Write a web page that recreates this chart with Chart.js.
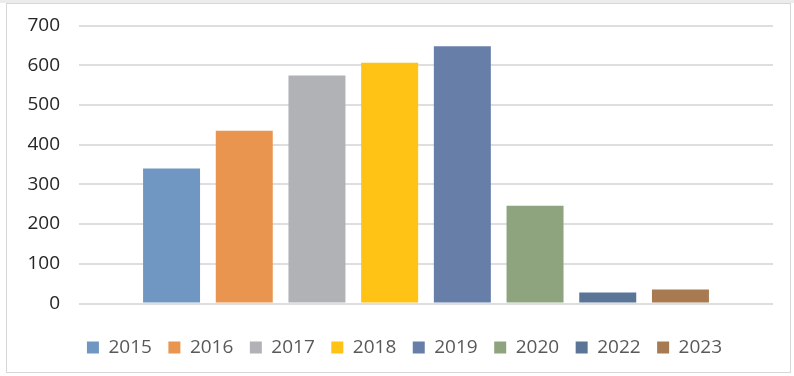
<!DOCTYPE html>
<html>
<head>
<meta charset="utf-8">
<script src="https://cdn.jsdelivr.net/npm/chart.js@4.4.0/dist/chart.umd.min.js"></script>
<style>
html,body{margin:0;padding:0;background:#fff;}
#wrap{position:relative;width:794px;height:376px;overflow:hidden;}
#band{position:absolute;left:0;top:0;width:794px;height:3px;background:#ececec;}
#frame{position:absolute;left:6px;top:3px;width:785px;height:370px;border:1px solid #d6d6d6;box-sizing:border-box;}
canvas{position:absolute;left:0;top:0;}
</style>
</head>
<body>
<div id="wrap">
<div id="band"></div>
<div id="frame"></div>
<canvas id="c" width="794" height="376"></canvas>
</div>
<script>
const years = ['2015','2016','2017','2018','2019','2020','2022','2023'];
const values = [340, 435, 574, 606, 648, 246, 28, 35];
const colors = ['#7097c1','#e9954f','#b1b2b6','#fec314','#677ea8','#8ea47e','#5b7597','#a77a52'];
const yTicks = [0,100,200,300,400,500,600,700];

const datasets = years.map((y, i) => ({
  label: y,
  data: [values[i]],
  backgroundColor: colors[i],
  borderWidth: 0,
  categoryPercentage: 0.838,
  barPercentage: 0.784
}));

new Chart(document.getElementById('c'), {
  type: 'bar',
  data: { labels: [''], datasets },
  options: {
    responsive: false,
    animation: false,
    devicePixelRatio: 1,
    layout: { padding: { left: 27, right: 12, top: 0, bottom: 9 } },
    plugins: {
      tooltip: { enabled: false },
      legend: {
        position: 'bottom',
        labels: {
          boxWidth: 12,
          boxHeight: 12,
          padding: 16.5,
          color: '#595959',
          font: { family: 'Open Sans', size: 19 }
        }
      }
    },
    scales: {
      x: {
        display: true,
        grid: { display: false, drawTicks: false },
        border: { display: false },
        ticks: { display: false },
        afterFit: (s) => { s.height = 18; }
      },
      y: {
        min: 0, max: 700,
        afterBuildTicks: (ax) => { ax.ticks = yTicks.map(v => ({ value: v })); },
        afterFit: (s) => { s.width = 52; s.paddingTop = 25.5; s.paddingBottom = 10; },
        ticks: { padding: 19, color: '#262626', font: { family: 'Open Sans', size: 19 } },
        grid: { color: '#dedede', lineWidth: 2, drawTicks: false },
        border: { display: false }
      },
      yR: {
        position: 'right',
        display: true,
        min: 0, max: 700,
        afterFit: (s) => { s.width = 9; s.paddingTop = 0; s.paddingBottom = 0; },
        ticks: { display: false },
        grid: { display: false, drawTicks: false },
        border: { display: false }
      }
    }
  }
});
</script>
</body>
</html>
